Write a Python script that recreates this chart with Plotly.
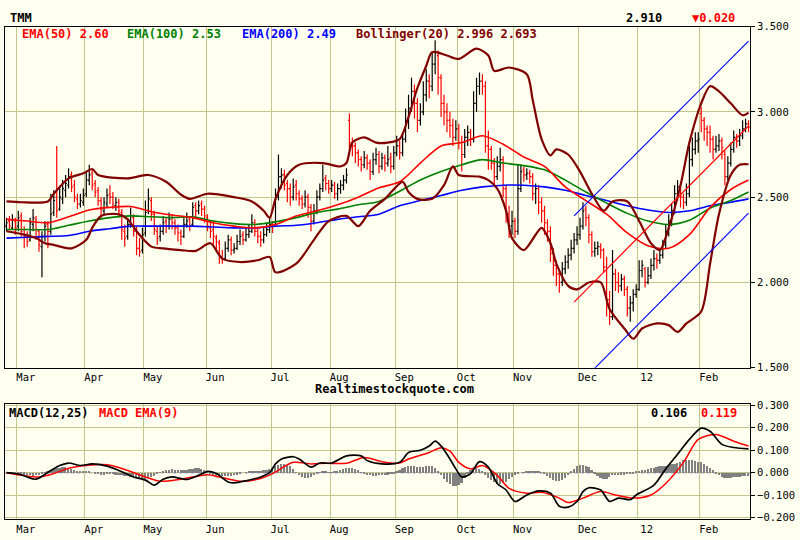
"""
TMM daily chart: OHLC bars with EMA(50/100/200), Bollinger(20), trend channel and MACD panel.
"""

import plotly.graph_objects as go

# daily bars, late Feb 2011 .. late Feb 2012
opens = [
    2.33, 2.36, 2.32, 2.36, 2.33, 2.39, 2.31, 2.28, 2.25, 2.34, 2.37, 2.30,
    2.21, 2.27, 2.34, 2.30, 2.41, 2.50, 2.43, 2.49, 2.54, 2.57, 2.63, 2.57,
    2.49, 2.46, 2.47, 2.52, 2.60, 2.64, 2.58, 2.54, 2.48, 2.42, 2.46, 2.52,
    2.50, 2.45, 2.47, 2.41, 2.30, 2.27, 2.34, 2.38, 2.31, 2.20, 2.19, 2.29,
    2.42, 2.48, 2.40, 2.30, 2.27, 2.30, 2.36, 2.33, 2.38, 2.35, 2.32, 2.29,
    2.27, 2.34, 2.37, 2.34, 2.45, 2.42, 2.46, 2.43, 2.38, 2.32, 2.31, 2.26,
    2.23, 2.15, 2.14, 2.20, 2.25, 2.19, 2.20, 2.24, 2.28, 2.25, 2.28, 2.30,
    2.35, 2.30, 2.27, 2.25, 2.28, 2.31, 2.34, 2.34, 2.50, 2.62, 2.63, 2.58,
    2.55, 2.50, 2.57, 2.52, 2.49, 2.46, 2.50, 2.44, 2.36, 2.42, 2.50, 2.55,
    2.61, 2.58, 2.55, 2.57, 2.52, 2.55, 2.57, 2.60, 2.95, 2.82, 2.80, 2.76,
    2.72, 2.69, 2.73, 2.70, 2.65, 2.72, 2.75, 2.68, 2.73, 2.70, 2.73, 2.68,
    2.76, 2.80, 2.76, 2.84, 2.95, 3.02, 3.12, 3.05, 2.95, 3.00, 3.10, 3.18,
    3.15, 3.28, 3.33, 3.20, 3.05, 3.00, 2.95, 2.92, 2.85, 2.90, 2.82, 2.75,
    2.85, 2.88, 2.84, 3.05, 3.15, 3.18, 3.15, 2.80, 2.78, 2.70, 2.62, 2.68,
    2.72, 2.55, 2.40, 2.33, 2.36, 2.30, 2.55, 2.66, 2.63, 2.64, 2.62, 2.52,
    2.55, 2.47, 2.42, 2.35, 2.30, 2.17, 2.10, 2.05, 2.00, 2.08, 2.12, 2.16,
    2.20, 2.25, 2.28, 2.33, 2.43, 2.38, 2.28, 2.18, 2.20, 2.21, 2.19, 2.09,
    1.90, 1.80, 2.05, 2.00, 1.98, 2.02, 1.96, 1.85, 1.88, 1.93, 1.96, 2.07,
    2.08, 2.00, 2.04, 2.10, 2.14, 2.13, 2.16, 2.22, 2.30, 2.36, 2.42, 2.52,
    2.56, 2.50, 2.47, 2.52, 2.72, 2.78, 2.83, 2.99, 2.95, 2.90, 2.88, 2.84,
    2.78, 2.80, 2.83, 2.75, 2.62, 2.70, 2.78, 2.85, 2.83, 2.86, 2.90, 2.93,
]
highs = [
    2.38, 2.39, 2.40, 2.38, 2.42, 2.41, 2.33, 2.30, 2.38, 2.43, 2.39, 2.31,
    2.30, 2.36, 2.36, 2.52, 2.54, 2.80, 2.56, 2.60, 2.63, 2.67, 2.65, 2.60,
    2.52, 2.52, 2.55, 2.65, 2.69, 2.66, 2.60, 2.56, 2.50, 2.50, 2.55, 2.57,
    2.53, 2.50, 2.49, 2.43, 2.34, 2.38, 2.44, 2.40, 2.33, 2.26, 2.32, 2.48,
    2.55, 2.50, 2.42, 2.33, 2.34, 2.39, 2.38, 2.41, 2.40, 2.37, 2.34, 2.31,
    2.38, 2.41, 2.39, 2.47, 2.47, 2.48, 2.48, 2.45, 2.40, 2.36, 2.36, 2.28,
    2.25, 2.19, 2.24, 2.28, 2.27, 2.23, 2.28, 2.31, 2.30, 2.32, 2.34, 2.40,
    2.37, 2.32, 2.30, 2.32, 2.35, 2.38, 2.36, 2.55, 2.75, 2.67, 2.66, 2.60,
    2.58, 2.61, 2.60, 2.54, 2.51, 2.54, 2.52, 2.46, 2.46, 2.54, 2.58, 2.69,
    2.63, 2.60, 2.60, 2.59, 2.58, 2.60, 2.63, 2.67, 2.99, 2.85, 2.82, 2.78,
    2.74, 2.77, 2.75, 2.72, 2.76, 2.79, 2.77, 2.76, 2.75, 2.80, 2.76, 2.80,
    2.86, 2.83, 2.88, 3.02, 3.10, 3.20, 3.16, 3.08, 3.05, 3.18, 3.25, 3.22,
    3.35, 3.42, 3.36, 3.22, 3.10, 3.05, 3.00, 2.96, 2.95, 2.93, 2.86, 2.90,
    2.92, 2.90, 3.12, 3.20, 3.23, 3.22, 3.18, 2.89, 2.80, 2.73, 2.74, 2.79,
    2.74, 2.57, 2.45, 2.42, 2.38, 2.69, 2.69, 2.68, 2.67, 2.66, 2.64, 2.58,
    2.57, 2.50, 2.45, 2.37, 2.33, 2.20, 2.13, 2.08, 2.12, 2.16, 2.20, 2.25,
    2.29, 2.33, 2.38, 2.47, 2.45, 2.40, 2.30, 2.24, 2.24, 2.23, 2.20, 2.15,
    1.95, 2.19, 2.08, 2.06, 2.05, 2.04, 1.98, 1.92, 1.96, 1.99, 2.13, 2.13,
    2.09, 2.09, 2.14, 2.19, 2.17, 2.20, 2.25, 2.34, 2.40, 2.46, 2.57, 2.60,
    2.58, 2.52, 2.58, 2.80, 2.85, 2.88, 2.88, 3.03, 2.97, 2.92, 2.92, 2.86,
    2.86, 2.87, 2.85, 2.77, 2.74, 2.82, 2.89, 2.87, 2.90, 2.95, 2.96, 2.95,
]
lows = [
    2.30, 2.31, 2.31, 2.28, 2.30, 2.27, 2.20, 2.21, 2.24, 2.30, 2.25, 2.18,
    2.03, 2.24, 2.20, 2.28, 2.39, 2.38, 2.42, 2.46, 2.50, 2.55, 2.53, 2.47,
    2.43, 2.44, 2.45, 2.50, 2.57, 2.54, 2.50, 2.45, 2.38, 2.40, 2.44, 2.46,
    2.43, 2.42, 2.38, 2.25, 2.21, 2.25, 2.32, 2.27, 2.16, 2.15, 2.17, 2.27,
    2.40, 2.36, 2.28, 2.22, 2.24, 2.28, 2.29, 2.31, 2.31, 2.28, 2.24, 2.22,
    2.26, 2.32, 2.30, 2.33, 2.38, 2.40, 2.39, 2.35, 2.30, 2.26, 2.22, 2.18,
    2.11, 2.11, 2.13, 2.18, 2.16, 2.17, 2.19, 2.22, 2.22, 2.24, 2.26, 2.29,
    2.27, 2.23, 2.21, 2.23, 2.27, 2.29, 2.29, 2.33, 2.48, 2.55, 2.54, 2.47,
    2.45, 2.48, 2.48, 2.45, 2.43, 2.44, 2.38, 2.30, 2.34, 2.40, 2.48, 2.53,
    2.54, 2.52, 2.53, 2.49, 2.48, 2.52, 2.54, 2.58, 2.78, 2.74, 2.70, 2.68,
    2.65, 2.67, 2.66, 2.60, 2.63, 2.69, 2.64, 2.66, 2.65, 2.68, 2.64, 2.66,
    2.74, 2.72, 2.74, 2.82, 2.90, 3.00, 2.96, 2.88, 2.92, 2.98, 3.06, 3.08,
    3.12, 3.22, 3.10, 2.97, 2.92, 2.88, 2.85, 2.80, 2.83, 2.78, 2.65, 2.73,
    2.80, 2.80, 2.82, 3.00, 3.10, 3.10, 2.76, 2.66, 2.66, 2.57, 2.60, 2.65,
    2.50, 2.35, 2.26, 2.28, 2.26, 2.28, 2.53, 2.59, 2.60, 2.58, 2.48, 2.46,
    2.40, 2.35, 2.28, 2.24, 2.12, 2.04, 1.98, 1.94, 1.98, 2.05, 2.08, 2.13,
    2.17, 2.22, 2.25, 2.31, 2.33, 2.23, 2.15, 2.15, 2.16, 2.14, 2.06, 1.80,
    1.75, 1.78, 1.95, 1.94, 1.95, 1.92, 1.80, 1.77, 1.83, 1.91, 1.95, 2.03,
    1.97, 1.99, 2.02, 2.07, 2.08, 2.11, 2.14, 2.20, 2.27, 2.33, 2.40, 2.48,
    2.44, 2.43, 2.45, 2.50, 2.68, 2.75, 2.76, 2.88, 2.83, 2.80, 2.76, 2.72,
    2.76, 2.77, 2.72, 2.57, 2.60, 2.68, 2.76, 2.79, 2.80, 2.84, 2.88, 2.88,
]
closes = [
    2.35, 2.33, 2.37, 2.32, 2.38, 2.30, 2.27, 2.24, 2.35, 2.38, 2.31, 2.22,
    2.27, 2.33, 2.30, 2.40, 2.48, 2.42, 2.50, 2.55, 2.58, 2.62, 2.56, 2.50,
    2.46, 2.48, 2.51, 2.60, 2.63, 2.57, 2.53, 2.48, 2.43, 2.47, 2.51, 2.50,
    2.46, 2.47, 2.42, 2.31, 2.26, 2.34, 2.39, 2.30, 2.20, 2.18, 2.28, 2.41,
    2.49, 2.40, 2.31, 2.26, 2.30, 2.35, 2.33, 2.37, 2.35, 2.32, 2.29, 2.27,
    2.34, 2.36, 2.33, 2.44, 2.42, 2.45, 2.43, 2.39, 2.33, 2.30, 2.27, 2.24,
    2.15, 2.14, 2.20, 2.25, 2.19, 2.20, 2.24, 2.27, 2.25, 2.28, 2.30, 2.35,
    2.30, 2.27, 2.25, 2.28, 2.31, 2.34, 2.33, 2.50, 2.62, 2.63, 2.57, 2.55,
    2.50, 2.56, 2.52, 2.49, 2.46, 2.50, 2.44, 2.36, 2.42, 2.50, 2.55, 2.60,
    2.58, 2.55, 2.57, 2.52, 2.55, 2.57, 2.60, 2.63, 2.82, 2.80, 2.76, 2.72,
    2.69, 2.73, 2.70, 2.65, 2.72, 2.75, 2.68, 2.73, 2.70, 2.72, 2.68, 2.76,
    2.80, 2.76, 2.84, 2.95, 3.02, 3.12, 3.05, 2.95, 3.00, 3.10, 3.18, 3.15,
    3.28, 3.35, 3.20, 3.05, 3.00, 2.95, 2.92, 2.85, 2.90, 2.82, 2.75, 2.85,
    2.88, 2.84, 3.05, 3.15, 3.18, 3.15, 2.80, 2.78, 2.70, 2.62, 2.68, 2.72,
    2.55, 2.40, 2.33, 2.36, 2.30, 2.55, 2.65, 2.63, 2.64, 2.62, 2.52, 2.55,
    2.47, 2.42, 2.35, 2.30, 2.17, 2.10, 2.05, 2.00, 2.08, 2.12, 2.16, 2.20,
    2.25, 2.28, 2.33, 2.42, 2.38, 2.28, 2.18, 2.20, 2.21, 2.19, 2.09, 1.90,
    1.80, 2.05, 2.00, 1.98, 2.02, 1.96, 1.85, 1.88, 1.93, 1.96, 2.07, 2.10,
    2.00, 2.04, 2.10, 2.14, 2.13, 2.16, 2.22, 2.30, 2.36, 2.42, 2.52, 2.56,
    2.50, 2.47, 2.52, 2.72, 2.78, 2.83, 2.84, 2.95, 2.90, 2.88, 2.84, 2.78,
    2.80, 2.83, 2.79, 2.62, 2.70, 2.78, 2.85, 2.83, 2.86, 2.90, 2.93, 2.91,
]

# moving averages every 7 bars
ema_days = [0, 7, 14, 21, 28, 35, 42, 49, 56, 63, 70, 77, 84, 91, 98, 105, 112, 119, 126,
            133, 140, 147, 154, 161, 168, 175, 182, 189, 196, 203, 210, 217, 224, 231, 238, 245, 251]
ema50 = [2.37, 2.36, 2.35, 2.385, 2.425, 2.44, 2.445, 2.415, 2.395, 2.38, 2.35, 2.33, 2.32, 2.34,
         2.39, 2.42, 2.455, 2.50, 2.555, 2.59, 2.70, 2.80, 2.82, 2.86, 2.81, 2.735, 2.68, 2.56,
         2.48, 2.40, 2.29, 2.215, 2.20, 2.28, 2.44, 2.545, 2.60]
ema100 = [2.31, 2.31, 2.31, 2.335, 2.36, 2.38, 2.39, 2.385, 2.38, 2.385, 2.36, 2.345, 2.34, 2.355,
          2.38, 2.41, 2.43, 2.455, 2.475, 2.535, 2.60, 2.65, 2.69, 2.72, 2.70, 2.685, 2.66, 2.60,
          2.53, 2.465, 2.405, 2.36, 2.34, 2.365, 2.435, 2.48, 2.53]
ema200 = [2.26, 2.265, 2.27, 2.275, 2.30, 2.315, 2.33, 2.33, 2.33, 2.33, 2.325, 2.32, 2.32, 2.33,
          2.335, 2.35, 2.37, 2.385, 2.40, 2.45, 2.48, 2.51, 2.54, 2.56, 2.57, 2.57, 2.56, 2.54,
          2.51, 2.48, 2.45, 2.425, 2.41, 2.42, 2.45, 2.47, 2.49]

bb_upper_days = [0, 5, 14, 16, 21, 26, 29, 31, 41, 48, 54, 59, 62, 68, 77, 83, 87, 89, 91, 95,
                 99, 107, 113, 115, 117, 121, 125, 129, 133, 136, 139, 142, 144, 149, 153, 159,
                 163, 165, 170, 176, 178, 181, 184, 186, 190, 194, 198, 202, 205, 210, 214, 218,
                 221, 224, 228, 231, 235, 238, 241, 245, 249, 251]
bb_upper = [2.475, 2.47, 2.475, 2.52, 2.61, 2.64, 2.665, 2.63, 2.61, 2.63, 2.59, 2.515, 2.49, 2.52,
            2.50, 2.475, 2.42, 2.38, 2.49, 2.63, 2.69, 2.70, 2.68, 2.70, 2.82, 2.85, 2.82, 2.82,
            2.84, 2.97, 3.14, 3.27, 3.35, 3.33, 3.31, 3.37, 3.33, 3.24, 3.26, 3.22, 3.07, 2.84,
            2.745, 2.78, 2.75, 2.65, 2.52, 2.42, 2.475, 2.475, 2.36, 2.23, 2.19, 2.32, 2.57, 2.82,
            3.05, 3.15, 3.12, 3.05, 2.98, 2.996]
bb_lower_days = [0, 6, 10, 13, 16, 22, 27, 29, 32, 38, 41, 44, 49, 53, 59, 64, 69, 73, 79, 85,
                 89, 91, 98, 104, 109, 115, 119, 123, 128, 134, 136, 139, 144, 148, 151, 153, 160,
                 163, 166, 169, 171, 175, 179, 181, 184, 186, 190, 193, 197, 201, 204, 209, 212,
                 215, 220, 224, 227, 230, 235, 238, 241, 245, 248, 251]
bb_lower = [2.30, 2.28, 2.26, 2.23, 2.22, 2.20, 2.25, 2.32, 2.39, 2.40, 2.37, 2.30, 2.21, 2.20,
            2.19, 2.185, 2.23, 2.14, 2.12, 2.13, 2.15, 2.06, 2.11, 2.25, 2.36, 2.39, 2.33, 2.42,
            2.49, 2.59, 2.53, 2.49, 2.49, 2.57, 2.68, 2.63, 2.62, 2.60, 2.55, 2.42, 2.26, 2.19,
            2.28, 2.32, 2.23, 2.11, 1.98, 1.96, 2.00, 2.00, 1.845, 1.73, 1.67, 1.73, 1.76, 1.75,
            1.71, 1.76, 1.83, 2.11, 2.40, 2.63, 2.69, 2.693]

# hand-drawn trend channel (start and end of each line)
channel_days = [192, 251]
channel_top = [2.39, 3.415]
channel_mid = [1.885, 2.917]
channel_bottom = [1.375, 2.407]

macd_days = [0, 5, 7, 10, 15, 18, 21, 25, 29, 34, 38, 43, 47, 50, 53, 56, 61, 65, 68, 71, 75, 77,
             81, 86, 89, 91, 93, 97, 99, 103, 106, 110, 115, 120, 122, 127, 133, 136, 140, 143,
             145, 147, 150, 152, 154, 157, 160, 163, 166, 169, 172, 176, 180, 184, 187, 190, 193,
             195, 197, 201, 204, 207, 211, 213, 219, 223, 227, 231, 235, 238, 242, 246, 251]
macd_vals = [0.0, -0.009, -0.019, -0.029, 0.01, 0.032, 0.043, 0.032, 0.039, 0.029, 0.01, -0.019,
             -0.033, -0.055, -0.029, -0.019, -0.03, -0.012, 0.006, -0.004, -0.041, -0.045, -0.036,
             -0.019, 0.0, 0.039, 0.061, 0.071, 0.061, 0.025, 0.043, 0.043, 0.075, 0.075, 0.054,
             0.039, 0.046, 0.09, 0.10, 0.119, 0.14, 0.119, 0.061, 0.017, -0.019, -0.004, 0.049,
             0.025, -0.048, -0.077, -0.128, -0.099, -0.081, -0.091, -0.149, -0.153, -0.128, -0.084,
             -0.067, -0.077, -0.128, -0.113, -0.12, -0.099, -0.055, 0.017, 0.082, 0.148, 0.198,
             0.184, 0.126, 0.112, 0.106]
signal_days = [0, 11, 16, 21, 27, 34, 41, 47, 52, 59, 68, 72, 79, 86, 90, 97, 103, 108, 115, 121,
               127, 133, 136, 143, 147, 150, 153, 157, 161, 166, 170, 176, 181, 187, 190, 195, 201,
               206, 212, 218, 223, 229, 234, 240, 246, 251]
signal_vals = [0.0, -0.019, -0.004, 0.02, 0.032, 0.035, 0.01, -0.019, -0.038, -0.029, -0.009,
               -0.019, -0.038, -0.026, -0.004, 0.046, 0.039, 0.042, 0.042, 0.068, 0.049, 0.043,
               0.061, 0.09, 0.111, 0.096, 0.046, 0.017, 0.032, -0.012, -0.07, -0.091, -0.087,
               -0.113, -0.133, -0.113, -0.084, -0.099, -0.113, -0.099, -0.048, 0.046, 0.148, 0.17,
               0.14, 0.119]
macd_hist = [
    0.0, 0.0, -0.002, -0.004, -0.005, -0.006,
    -0.008, -0.01, -0.012, -0.013, -0.012, -0.01, -0.006, -0.002,
    0.006, 0.012, 0.016, 0.02, 0.023, 0.025, 0.024, 0.02, 0.015,
    0.01, 0.006, 0.004, 0.005, 0.006, 0.004,
    0.0, -0.004, -0.006, -0.008, -0.008, -0.007, -0.006, -0.006, -0.008, -0.01, -0.012, -0.014, -0.016,
    -0.018, -0.021, -0.024, -0.026, -0.027, -0.026, -0.024, -0.02, -0.014, -0.006,
    0.002, 0.008, 0.012, 0.014, 0.015, 0.014, 0.012, 0.01, 0.011, 0.013, 0.015, 0.017, 0.019, 0.02,
    0.018, 0.012, 0.004,
    -0.004, -0.009, -0.013, -0.015, -0.016, -0.016, -0.015, -0.013, -0.011, -0.008, -0.004,
    0.0, 0.003, 0.005, 0.007, 0.008, 0.009, 0.009, 0.01, 0.012, 0.016,
    0.022, 0.03, 0.036, 0.04, 0.04, 0.036, 0.028, 0.016,
    0.002, -0.01, -0.018, -0.022, -0.022, -0.018, -0.012, -0.004,
    0.002, 0.004, 0.004, 0.003, 0.002, 0.004, 0.008, 0.013, 0.017,
    0.02, 0.021, 0.02, 0.016, 0.01, 0.003, -0.004,
    -0.009, -0.012, -0.013, -0.013, -0.012, -0.011, -0.01, -0.008, -0.005, -0.002, 0.004,
    0.012, 0.02, 0.026, 0.029, 0.03, 0.029, 0.027, 0.026, 0.027, 0.03, 0.032, 0.028, 0.02,
    0.006, -0.01, -0.026, -0.04, -0.05, -0.057, -0.06, -0.055, -0.044, -0.025,
    -0.006, 0.01, 0.018, 0.021, 0.018, 0.008,
    -0.008, -0.022, -0.034, -0.043, -0.049, -0.05, -0.047, -0.04, -0.03, -0.018, -0.008, -0.002,
    0.0, 0.002, 0.005, 0.006, 0.006, 0.005, 0.004, 0.002, -0.004,
    -0.014, -0.024, -0.032, -0.037, -0.038, -0.034, -0.024, -0.01,
    0.006, 0.018, 0.028, 0.034, 0.036, 0.032, 0.024, 0.012,
    -0.004, -0.016, -0.024, -0.028, -0.026, -0.018,
    -0.012, -0.01, -0.009, -0.008, -0.008, -0.007, -0.005, -0.002,
    0.004, 0.008, 0.011, 0.014, 0.017, 0.02, 0.023, 0.026, 0.028,
    0.03, 0.032, 0.034, 0.037, 0.04, 0.045, 0.05, 0.055, 0.058, 0.058, 0.055, 0.052, 0.05,
    0.046, 0.04, 0.032, 0.022,
    0.01, -0.002, -0.012, -0.018, -0.022, -0.024, -0.023, -0.021, -0.019, -0.017, -0.015, -0.014,
    -0.013,
]

month_ticks = [3.5, 26.5, 46.5, 67.5, 89.5, 109.5, 131.5, 152.5, 171.5, 193.5, 213.5, 234.5]
month_labels = ['Mar', 'Apr', 'May', 'Jun', 'Jul', 'Aug', 'Sep', 'Oct', 'Nov', 'Dec', '12', 'Feb']
price_ticks = [1.5, 2.0, 2.5, 3.0, 3.5]
macd_ticks = [-0.2, -0.1, 0.0, 0.1, 0.2, 0.3]

days = list(range(len(closes)))

BG = '#FFFFF0'
GRID = '#C4C48E'
MONO = 'DejaVu Sans Mono'


def line(x, y, color, width, axes=('x', 'y'), smooth=True):
    return go.Scatter(
        x=x, y=y, mode='lines', xaxis=axes[0], yaxis=axes[1],
        line=dict(color=color, width=width, shape='spline' if smooth else 'linear', smoothing=0.8),
        hoverinfo='skip', showlegend=False,
    )


fig = go.Figure()
fig.add_trace(go.Ohlc(
    x=days, open=opens, high=highs, low=lows, close=closes,
    increasing=dict(line=dict(color='black', width=1.2)),
    decreasing=dict(line=dict(color='red', width=1.2)),
    tickwidth=0.45, showlegend=False,
))
fig.add_trace(line(ema_days, ema200, '#0000FF', 1.6))
fig.add_trace(line(ema_days, ema100, '#008000', 1.6))
fig.add_trace(line(ema_days, ema50, '#FF0000', 1.6))
fig.add_trace(line(bb_upper_days, bb_upper, '#800000', 2.2))
fig.add_trace(line(bb_lower_days, bb_lower, '#800000', 2.2))
fig.add_trace(line(channel_days, channel_top, '#0000FF', 1.1, smooth=False))
fig.add_trace(line(channel_days, channel_mid, '#FF0000', 1.2, smooth=False))
fig.add_trace(line(channel_days, channel_bottom, '#0000FF', 1.1, smooth=False))

fig.add_trace(go.Bar(x=days, y=macd_hist, xaxis='x2', yaxis='y2', width=0.6,
                     marker=dict(color='#808080', line=dict(width=0)),
                     hoverinfo='skip', showlegend=False))
fig.add_trace(line(signal_days, signal_vals, '#FF0000', 1.5, axes=('x2', 'y2')))
fig.add_trace(line(macd_days, macd_vals, '#000000', 1.7, axes=('x2', 'y2')))

fig.add_shape(type='line', xref='x2 domain', x0=0, x1=1, yref='y2', y0=0, y1=0,
              line=dict(color='#0000FF', width=1, dash='dot'), layer='below')

xaxis_style = dict(
    domain=[5 / 800, 750 / 800], range=[-0.5, len(days) - 0.5],
    tickmode='array', tickvals=month_ticks, ticktext=month_labels, ticklabelshift=9,
    showgrid=True, gridcolor=GRID, gridwidth=1, zeroline=False,
    showline=True, mirror=True, linecolor='black', linewidth=1, ticks='',
    tickfont=dict(family=MONO, size=10.5, color='black'),
)
yaxis_style = dict(
    side='right', tickformat='.3f', showgrid=True, gridcolor=GRID, gridwidth=1, zeroline=False,
    showline=True, mirror=True, linecolor='black', linewidth=1,
    ticks='outside', ticklen=4, tickcolor='black',
    tickfont=dict(family=MONO, size=10.5, color='black'),
)

fig.update_layout(
    width=800, height=540,
    margin=dict(l=0, r=0, t=0, b=0),
    paper_bgcolor=BG, plot_bgcolor=BG,
    showlegend=False, bargap=0,
    xaxis=dict(anchor='y', rangeslider=dict(visible=False), **xaxis_style),
    yaxis=dict(anchor='x', domain=[1 - 370 / 540, 1 - 21 / 540], range=[1.5, 3.5],
               tickvals=price_ticks, **yaxis_style),
    xaxis2=dict(anchor='y2', matches='x', **xaxis_style),
    yaxis2=dict(anchor='x2', domain=[1 - 525 / 540, 1 - 407 / 540], range=[-0.2074, 0.3057],
                tickvals=macd_ticks, **yaxis_style),
)


def label(text, x, y, color='black', size=12):
    fig.add_annotation(text=f'<b>{text}</b>', x=x, y=y, xref='paper', yref='paper',
                       xanchor='left', yanchor='middle', showarrow=False,
                       font=dict(family=MONO, size=size, color=color))


change = closes[-1] - closes[-2]
arrow = '▼' if change < 0 else '▲'

label('TMM', 8 / 800, 1 - 12 / 540)
label(f'{closes[-1]:.3f}', 624 / 800, 1 - 12 / 540)
label(f'{arrow}{abs(change):.3f}', 690 / 800, 1 - 12 / 540, color='#FF0000')
label(f'EMA(50) {ema50[-1]:.2f}', 20 / 800, 1 - 29 / 540, color='#FF0000')
label(f'EMA(100) {ema100[-1]:.2f}', 125 / 800, 1 - 29 / 540, color='#008000')
label(f'EMA(200) {ema200[-1]:.2f}', 240 / 800, 1 - 29 / 540, color='#0000FF')
label(f'Bollinger(20) {bb_upper[-1]:.3f} {bb_lower[-1]:.3f}', 354 / 800, 1 - 29 / 540, color='#800000')
label('Realtimestockquote.com', 313 / 800, 1 - 392 / 540)
label('MACD(12,25)', 7 / 800, 1 - 416 / 540)
label('MACD EMA(9)', 97 / 800, 1 - 416 / 540, color='#FF0000')
label(f'{macd_vals[-1]:.3f}', 649 / 800, 1 - 416 / 540)
label(f'{signal_vals[-1]:.3f}', 699 / 800, 1 - 416 / 540, color='#FF0000')

# the page's default 8px body margin would push the 800x540 figure out of the window
fig.write_html('out.html', config={'displayModeBar': False},
               post_script="document.body.style.margin='0';")
